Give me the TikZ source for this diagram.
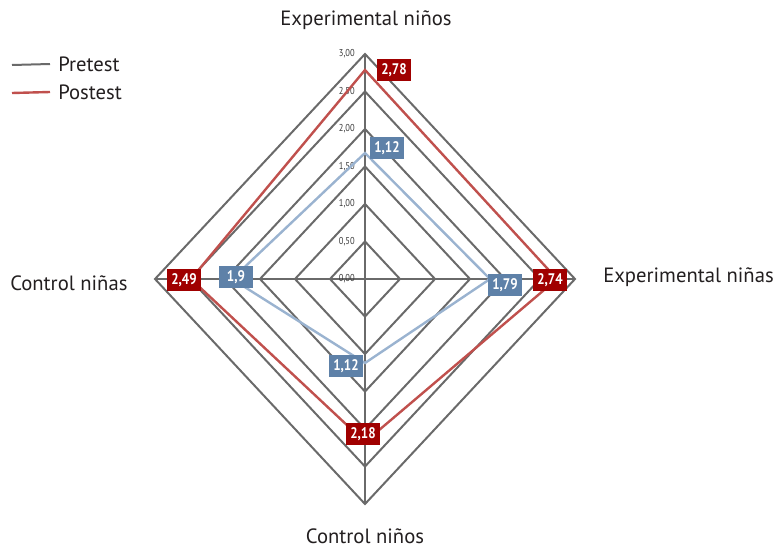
\documentclass[tikz,border=0pt]{standalone}
\usepackage{fontspec}
\setmainfont{PT Sans}
\definecolor{chartgrid}{HTML}{6A6A6A}
\definecolor{chartpre}{HTML}{9AB3D0}
\definecolor{chartpost}{HTML}{C0504D}
\definecolor{prebox}{HTML}{5E81A8}
\definecolor{postbox}{HTML}{A00000}
\definecolor{ticktext}{HTML}{3A3A3A}
\definecolor{axistext}{HTML}{231F20}
\tikzset{
  gridline/.style={draw=chartgrid, line width=1.5pt, line join=miter},
  preline/.style={draw=chartpre, line width=1.8pt},
  postline/.style={draw=chartpost, line width=1.8pt},
  valbox/.style={text=white, minimum width=26pt, minimum height=17pt, inner sep=1pt,
    font=\fontsize{11.5}{12}\selectfont\bfseries},
  prebox/.style={valbox, fill=prebox},
  postbox/.style={valbox, fill=postbox},
  ticklabel/.style={text=ticktext, inner sep=0pt, anchor=east, font=\fontsize{7.5}{8}\selectfont},
  axislabel/.style={text=axistext, inner sep=0pt, font=\fontsize{15.5}{17}\selectfont},
}
\newcommand{\narrow}[1]{\scalebox{0.85}[1]{#1}}
\begin{document}
\begin{tikzpicture}[x=0.75pt, y=-0.75pt]
  \useasboundingbox (0,0) rectangle (774,550);

  % Grid
  \foreach \r in {0.5,1.0,...,3.0}
    \draw[gridline] (365,{279-75*\r}) -- ({365+70*\r},279) -- (365,{279+75*\r}) -- ({365-70*\r},279) -- cycle;

  % Axes
  \coordinate (axis-top) at (365,54);
  \coordinate (axis-bottom) at (365,504);
  \coordinate (axis-left) at (155,279);
  \coordinate (axis-right) at (575,279);
  \draw[gridline] (axis-top) -- (axis-bottom);
  \draw[gridline] (axis-left) -- (axis-right);

  % Scale
  \foreach \v/\t in {0/{0,00}, 0.5/{0,50}, 1/{1,00}, 1.5/{1,50}, 2/{2,00}, 2.5/{2,50}, 3/{3,00}}
    \node[ticklabel] at (355,{279-75*\v}) {\narrow{\t}};

  % Pretest
  \coordinate (pre-top) at (365,153);
  \coordinate (pre-right) at (490,279);
  \coordinate (pre-bottom) at (365,363);
  \coordinate (pre-left) at (232,279);
  \draw[preline] (pre-top) -- (pre-right) -- (pre-bottom) -- (pre-left) -- cycle;

  % Postest
  \coordinate (post-top) at (365,70);
  \coordinate (post-right) at (557,279);
  \coordinate (post-bottom) at (365,442);
  \coordinate (post-left) at (191,279);
  \draw[postline] (post-top) -- (post-right) -- (post-bottom) -- (post-left) -- cycle;

  % Values
  \node[prebox] (pre-top-val) at (387,148) {\narrow{1,12}};
  \node[prebox] (pre-right-val) at (505,285) {\narrow{1,79}};
  \node[prebox] (pre-bottom-val) at (346,366) {\narrow{1,12}};
  \node[prebox] (pre-left-val) at (236,277) {\narrow{1,9}};
  \node[postbox] (post-top-val) at (394,70) {\narrow{2,78}};
  \node[postbox] (post-right-val) at (550,280) {\narrow{2,74}};
  \node[postbox] (post-bottom-val) at (363,434) {\narrow{2,18}};
  \node[postbox] (post-left-val) at (184,280) {\narrow{2,49}};

  % Axis labels
  \node[axislabel] (exp-ninos) at (366,20) {Experimental niños};
  \node[axislabel, anchor=west] (exp-ninas) at (603,277) {Experimental niñas};
  \node[axislabel] (ctl-ninos) at (365,536) {Control niños};
  \node[axislabel, anchor=west] (ctl-ninas) at (10,283) {Control niñas};

  % Legend
  \node[axislabel, anchor=west] (key-pre) at (58,64) {Pretest};
  \node[axislabel, anchor=west] (key-post) at (58,92) {Postest};
  \coordinate (key-pre-start) at (12,65);
  \coordinate (key-post-start) at (12,93);
  \draw[gridline] (key-pre-start) -- ([xshift=-6pt]key-pre.west);
  \draw[postline] (key-post-start) -- ([xshift=-6pt]key-post.west);
\end{tikzpicture}
\end{document}
